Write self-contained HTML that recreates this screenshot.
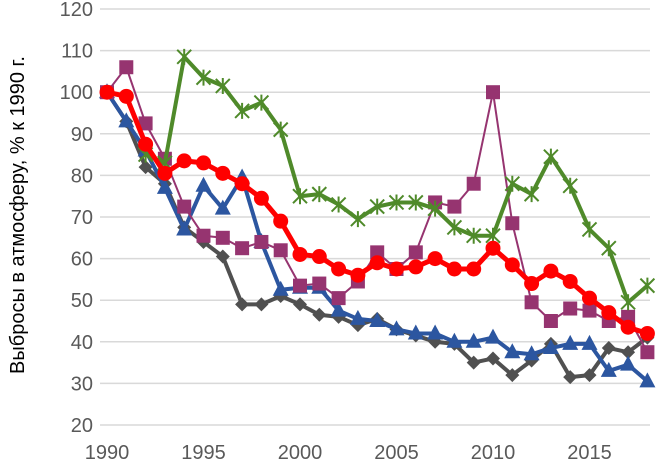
<!DOCTYPE html>
<html><head><meta charset="utf-8"><style>
body{margin:0;background:#fff}
svg{display:block;font-family:"Liberation Sans","DejaVu Sans",sans-serif}
</style></head><body>
<svg id="chart" width="659" height="466" viewBox="0 0 659 466">
<g id="grid"></g>
<g id="ylab"></g>
<g id="xlab"></g>
<text transform="translate(24,215) rotate(-90)" text-anchor="middle" font-size="20" fill="#000">Выбросы в атмосферу, % к 1990 г.</text>
<g id="series"></g>
</svg>
<script>
const years=[1990,1991,1992,1993,1994,1995,1996,1997,1998,1999,2000,2001,2002,2003,2004,2005,2006,2007,2008,2009,2010,2011,2012,2013,2014,2015,2016,2017,2018];
const yTicks=[20,30,40,50,60,70,80,90,100,110,120];
const xTicks=[1990,1995,2000,2005,2010,2015];
const grayVals=[100,93,82,78,67.5,64,60.5,49,49,51,49,46.5,46,44,45.5,43,41.5,40,39.5,35,36,32,35.5,39.5,31.5,32,38.5,37.5,41];
const blueVals=[100,93,86,77,67,77.5,72,79.5,64,52.5,53,53,47.5,45.5,45,43,42,42,40,40,41,37.5,37,38.5,39.5,39.5,33,34.5,30.5];
const purpleVals=[100,106,92.5,84,72.5,65.5,65,62.5,64,62,53.5,54,50.5,54.5,61.5,57.5,61.5,73.5,72.5,78,100,68.5,49.5,45,48,47.5,45,46,37.5];
const greenVals=[null,null,85,83,108.5,103.5,101.5,95.5,97.5,91,75,75.5,73,69.5,72.5,73.5,73.5,72,67.5,65.5,65.5,78,75.5,84.5,77.5,67,62.5,49.5,53.5];
const redVals=[100,99,87.5,80.5,83.5,83,80.5,78,74.5,69,61,60.5,57.5,56,59,57.5,58,60,57.5,57.5,62.5,58.5,54,57,54.5,50.5,47,43.5,42];

const NS="http://www.w3.org/2000/svg";
const X=y=>107+(y-1990)*19.3;
const Y=v=>9+(120-v)*4.16;
function el(t,a,p){const e=document.createElementNS(NS,t);for(const k in a)e.setAttribute(k,a[k]);p.appendChild(e);return e;}
const grid=document.getElementById('grid'),yl=document.getElementById('ylab'),xl=document.getElementById('xlab'),sg=document.getElementById('series');
yTicks.forEach(v=>{
  const l=el('line',{x1:100,x2:650,y1:Y(v),y2:Y(v),stroke:'#d9d9d9','stroke-width':1.5},grid);
  
  
  const t=el('text',{x:93,y:Y(v)+7,'text-anchor':'end','font-size':20,fill:'#595959'},yl);
  t.textContent=v;
  
  
});
xTicks.forEach(v=>{
  const t=el('text',{x:X(v),y:459,'text-anchor':'middle','font-size':20,fill:'#595959'},xl);
  t.textContent=v;
  
  
});
function series(name,vals,color,w,marker){
  const g=el('g',{},sg);
  
  
  const pts=[];vals.forEach((v,i)=>{if(v!=null)pts.push([X(years[i]),Y(v)]);});
  const pl=el('polyline',{points:pts.map(p=>p.join(',')).join(' '),fill:'none',stroke:color,'stroke-width':w,'stroke-linejoin':'round'},g);
  
  
  pts.forEach(([x,y],i)=>{
    let m;
    if(marker==='diamond')m=el('polygon',{points:`${x},${y-7} ${x+7},${y} ${x},${y+7} ${x-7},${y}`,fill:color},g);
    else if(marker==='square')m=el('rect',{x:x-7,y:y-7,width:14,height:14,fill:color},g);
    else if(marker==='tri')m=el('polygon',{points:`${x},${y-9} ${x+8},${y+6} ${x-8},${y+6}`,fill:color},g);
    else if(marker==='circle')m=el('circle',{cx:x,cy:y,r:7.5,fill:color},g);
    else{m=el('path',{d:`M${x-7},${y-7}L${x+7},${y+7}M${x-7},${y+7}L${x+7},${y-7}M${x},${y-8}L${x},${y+8}`,stroke:color,'stroke-width':2},g);}
    
    
  });
}
series('gray',grayVals,'#505050',4,'diamond');
series('blue',blueVals,'#2c56a0',4,'tri');
series('purple',purpleVals,'#963470',2,'square');
series('green',greenVals,'#4f8a2a',4,'star');
series('red',redVals,'#ff0000',5,'circle');
</script>
</body></html>
